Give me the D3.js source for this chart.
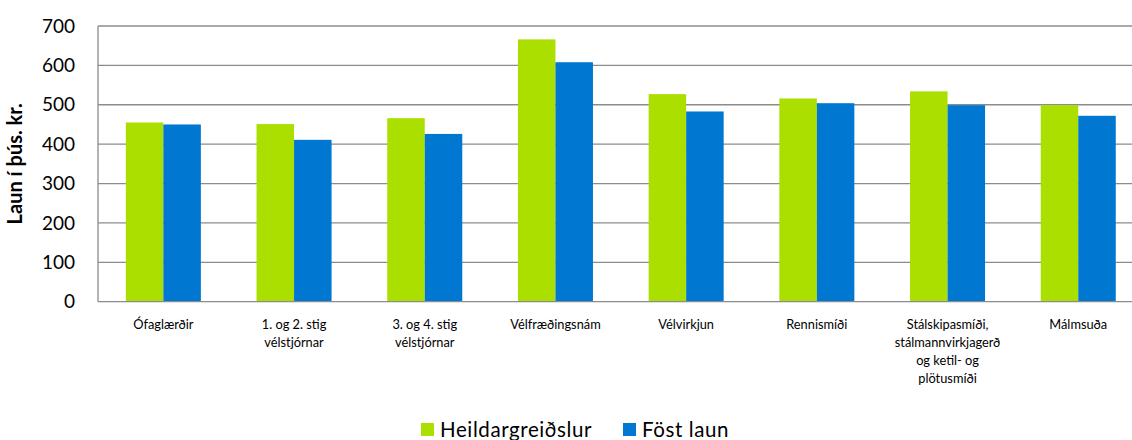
<!DOCTYPE html>
<html>
<head>
<meta charset="utf-8">
<script src="https://cdn.jsdelivr.net/npm/d3@7"></script>
<style>
  html, body { margin: 0; padding: 0; background: #fff; }
  svg { display: block; font-family: Lato, "Open Sans", sans-serif; }
</style>
</head>
<body>
<svg id="chart" width="1132" height="440"></svg>
<script>
const categories = [
  "Ófaglærðir",
  "1. og 2. stig\nvélstjórnar",
  "3. og 4. stig\nvélstjórnar",
  "Vélfræðingsnám",
  "Vélvirkjun",
  "Rennismíði",
  "Stálskipasmíði,\nstálmannvirkjagerð\nog ketil- og\nplötusmíði",
  "Málmsuða"
];
const seriesNames = ["Heildargreiðslur", "Föst laun"];
const heildargreidslur = [455, 451, 466, 666, 527, 516, 534, 499];
const fostLaun = [450, 411, 426, 608, 483, 504, 499, 472];
const yTicks = [0, 100, 200, 300, 400, 500, 600, 700];
const yLabel = "Laun í þús. kr.";
const colors = ["#AADF00", "#0077D0"];

(function () {
const svg = d3.select("#chart");
const mLeft = 98, mTop = 26, mBottom = 301.7;
const step = 130.7;
const mRight = mLeft + step * categories.length;

const x = d3.scaleBand().domain(categories).range([mLeft, mRight]).paddingInner(0.426).paddingOuter(0.213);
const xs = d3.scaleBand().domain(seriesNames).range([0, x.bandwidth()]);
const y = d3.scaleLinear().domain([0, 700]).range([mBottom, mTop]);

// gridlines
svg.append("g").selectAll("line").data(yTicks.filter(d => d > 0)).join("line")
  .attr("x1", mLeft).attr("x2", mRight)
  .attr("y1", d => y(d)).attr("y2", d => y(d))
  .attr("stroke", "#8c8c8c").attr("stroke-width", 1.3);

// bars
const data = categories.map((c, i) => ({ c, vals: [heildargreidslur[i], fostLaun[i]] }));
const g = svg.append("g").selectAll("g").data(data).join("g")
  .attr("transform", d => `translate(${x(d.c)},0)`);
g.selectAll("rect").data(d => d.vals.map((v, j) => ({ v, s: seriesNames[j], j }))).join("rect")
  .attr("x", d => xs(d.s)).attr("width", xs.bandwidth())
  .attr("y", d => y(d.v)).attr("height", d => y(0) - y(d.v))
  .attr("fill", d => colors[d.j]);

// axes lines
svg.append("line").attr("x1", mLeft).attr("x2", mLeft).attr("y1", y(700)).attr("y2", y(0))
  .attr("stroke", "#8c8c8c").attr("stroke-width", 1.3);
svg.append("line").attr("x1", mLeft).attr("x2", mRight).attr("y1", y(0)).attr("y2", y(0))
  .attr("stroke", "#8c8c8c").attr("stroke-width", 1.3);

// y tick labels
const yAxis = d3.axisLeft(y).tickValues(yTicks).tickSize(0).tickPadding(23);
const ya = svg.append("g").attr("transform", `translate(${mLeft},0)`).call(yAxis);
ya.select(".domain").remove();
ya.selectAll("text").attr("font-size", 19).attr("fill", "#000").attr("font-family", "Lato, sans-serif");

// y label
svg.append("text")
  .attr("transform", `translate(22,${(y(0) + y(700)) / 2}) rotate(-90)`)
  .attr("text-anchor", "middle")
  .attr("font-size", 20).attr("font-weight", "bold")
  .text(yLabel);

// category labels
const cl = svg.append("g").selectAll("text").data(categories).join("text")
  .attr("x", d => x(d) + x.bandwidth() / 2)
  .attr("y", 329)
  .attr("text-anchor", "middle")
  .attr("font-size", 12.8).attr("fill", "#000");
cl.selectAll("tspan").data(d => d.split("\n")).join("tspan")
  .attr("x", function() { return d3.select(this.parentNode).attr("x"); })
  .attr("dy", (d, i) => i === 0 ? 0 : 18)
  .text(d => d);

// legend
const legendX = [421, 623];
const lg = svg.append("g").selectAll("g").data(seriesNames).join("g")
  .attr("transform", (d, i) => `translate(${legendX[i]},423)`);
lg.append("rect").attr("width", 13).attr("height", 13).attr("fill", (d, i) => colors[i]);
lg.append("text").attr("x", 19).attr("y", 13.7).attr("font-size", 20.5)
  .attr("letter-spacing", 0.6).text(d => d);
})();
</script>
</body>
</html>
